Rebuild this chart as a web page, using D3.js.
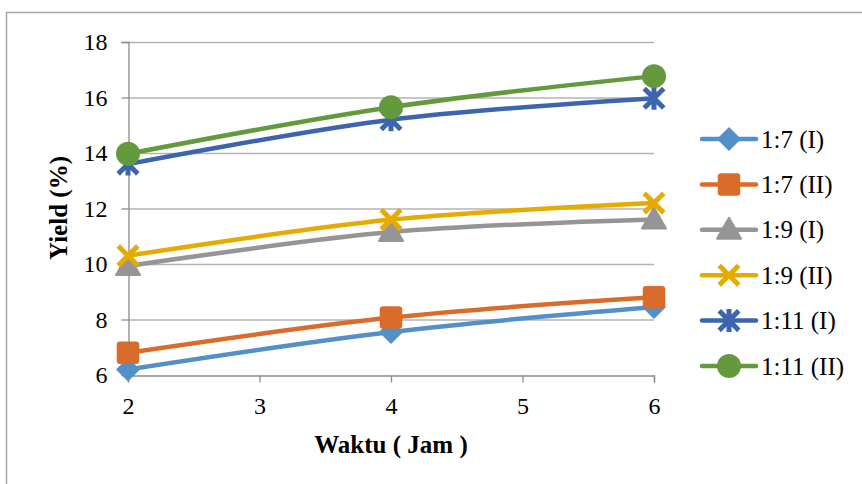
<!DOCTYPE html>
<html>
<head>
<meta charset="utf-8">
<script src="https://cdn.jsdelivr.net/npm/d3@7"></script>
<style>
  html, body { margin: 0; padding: 0; background: #fff; }
  svg { display: block; }
  svg text { font-family: "Liberation Serif", "Times New Roman", Times, Tinos, "DejaVu Serif", serif !important; fill: #000; }
</style>
</head>
<body>
<svg id="chart" width="862" height="484"></svg>
<script>
// Reaction time (hours)
const hours = [2, 4, 6];
const xTicks = [2, 3, 4, 5, 6];
const yTicks = [6, 8, 10, 12, 14, 16, 18];

// Yield (%) per solvent ratio and repetition
const seriesNames = ["1:7 (I)", "1:7 (II)", "1:9 (I)", "1:9 (II)", "1:11 (I)", "1:11 (II)"];
const yield17I  = [6.2, 7.55, 8.45];
const yield17II = [6.8, 8.07, 8.8];
const yield19I  = [9.93, 11.15, 11.6];
const yield19II = [10.3, 11.6, 12.2];
const yield111I = [13.6, 15.2, 15.97];
const yield111II = [13.97, 15.65, 16.77];
const seriesValues = [yield17I, yield17II, yield19I, yield19II, yield111I, yield111II];

const colors = ["#5490c8", "#d96c2a", "#959595", "#e6ab00", "#3d64ae", "#64993e"];
const markers = ["diamond", "square", "triangle", "x", "star", "circle"];
const serif = "'Liberation Serif', 'Times New Roman', Times, Tinos, 'DejaVu Serif', serif";

const svg = d3.select("#chart");

// outer chart frame
svg.append("rect")
  .attr("x", 6.5).attr("y", 12.5)
  .attr("width", 900).attr("height", 520)
  .attr("fill", "none").attr("stroke", "#a6a6a6").attr("stroke-width", 1.5);

const x = d3.scaleLinear().domain([2, 6]).range([128, 654]);
const y = d3.scaleLinear().domain([6, 18]).range([375, 42]);

// horizontal gridlines
svg.append("g")
  .selectAll("line")
  .data(yTicks.filter(d => d !== 6))
  .join("line")
  .attr("x1", x(2)).attr("x2", x(6))
  .attr("y1", d => y(d) + 0.5).attr("y2", d => y(d) + 0.5)
  .attr("stroke", "#b3b3b3").attr("stroke-width", 1.3);

// y axis
const yAxis = svg.append("g")
  .attr("transform", `translate(${x(2) + 0.5},0)`)
  .call(d3.axisLeft(y).tickValues(yTicks).tickSize(7).tickPadding(14).tickFormat(d3.format("d")))
  .attr("font-family", serif).attr("font-size", 24);
yAxis.select(".domain").attr("stroke", "#8c8c8c").attr("stroke-width", 1.3);
yAxis.selectAll(".tick line").attr("stroke", "#8c8c8c").attr("stroke-width", 1.3);
yAxis.selectAll(".tick text").attr("fill", "#000");

// x axis
const xAxis = svg.append("g")
  .attr("transform", `translate(0,${y(6) + 0.5})`)
  .call(d3.axisBottom(x).tickValues(xTicks).tickSize(7).tickPadding(14).tickFormat(d3.format("d")))
  .attr("font-family", serif).attr("font-size", 24);
xAxis.select(".domain").attr("stroke", "#8c8c8c").attr("stroke-width", 1.3);
xAxis.selectAll(".tick line").attr("stroke", "#8c8c8c").attr("stroke-width", 1.3);
xAxis.selectAll(".tick text").attr("fill", "#000");

// axis titles
svg.append("text")
  .attr("x", x(4)).attr("y", 453)
  .attr("text-anchor", "middle")
  .attr("font-family", serif)
  .attr("font-size", 25).attr("font-weight", "bold")
  .text("Waktu ( Jam )");

svg.append("text")
  .attr("transform", "translate(67,208) rotate(-90)")
  .attr("text-anchor", "middle")
  .attr("font-family", serif)
  .attr("font-size", 25).attr("font-weight", "bold")
  .text("Yield (%)");

// marker drawing
function drawMarker(g, type, color) {
  switch (type) {
    case "diamond":
      g.append("path").attr("d", "M0,-11L11,0L0,11L-11,0Z")
        .attr("fill", color).attr("stroke", color).attr("stroke-width", 1.5).attr("stroke-linejoin", "round");
      break;
    case "square":
      g.append("rect").attr("x", -10.5).attr("y", -10.5).attr("width", 21).attr("height", 21)
        .attr("rx", 2.5).attr("fill", color).attr("stroke", color).attr("stroke-width", 1.5);
      break;
    case "triangle":
      g.append("path").attr("d", "M0,-12L12,9L-12,9Z")
        .attr("fill", color).attr("stroke", color).attr("stroke-width", 2).attr("stroke-linejoin", "round");
      break;
    case "x":
      g.append("path").attr("d", "M-8,-8L8,8M8,-8L-8,8")
        .attr("fill", "none").attr("stroke", color).attr("stroke-width", 5).attr("stroke-linecap", "square");
      break;
    case "star":
      g.append("path").attr("d", "M-8,-8L8,8M8,-8L-8,8M0,-9L0,9")
        .attr("fill", "none").attr("stroke", color).attr("stroke-width", 5).attr("stroke-linecap", "square");
      break;
    case "circle":
      g.append("circle").attr("r", 12).attr("fill", color);
      break;
  }
}

const line = d3.line()
  .x(d => x(d[0]))
  .y(d => y(d[1]))
  .curve(d3.curveCatmullRom.alpha(0.5));

const plot = svg.append("g");
seriesValues.forEach((vals, i) => {
  const pts = hours.map((h, j) => [h, vals[j]]);
  plot.append("path")
    .datum(pts)
    .attr("d", line)
    .attr("fill", "none")
    .attr("stroke", colors[i])
    .attr("stroke-width", 4.5)
    .attr("stroke-linecap", "round");
});
seriesValues.forEach((vals, i) => {
  hours.forEach((h, j) => {
    const g = plot.append("g").attr("transform", `translate(${x(h)},${y(vals[j])})`);
    drawMarker(g, markers[i], colors[i]);
  });
});

// legend
const legend = svg.append("g");
const legendY = d3.scalePoint().domain(seriesNames).range([139, 366]);
seriesNames.forEach((name, i) => {
  const cy = legendY(name);
  const g = legend.append("g").attr("transform", `translate(0,${cy})`);
  g.append("line").attr("x1", 702).attr("x2", 756).attr("y1", 0).attr("y2", 0)
    .attr("stroke", colors[i]).attr("stroke-width", 4.5).attr("stroke-linecap", "round");
  const m = g.append("g").attr("transform", "translate(729,0)");
  drawMarker(m, markers[i], colors[i]);
  g.append("text").attr("x", 761).attr("y", 0).attr("dy", "0.34em")
    .attr("font-family", serif).attr("font-size", 25).text(name);
});
</script>
</body>
</html>
